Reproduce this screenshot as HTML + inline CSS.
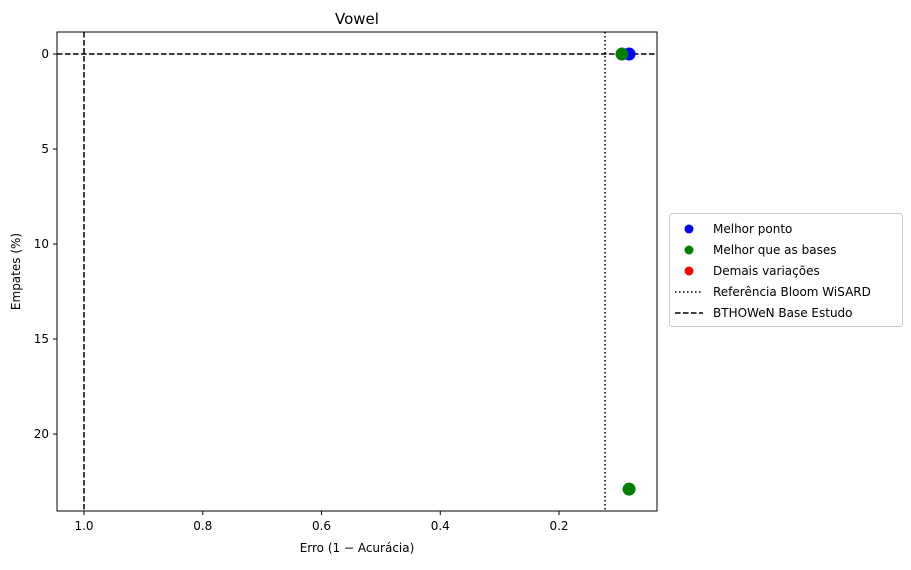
<!DOCTYPE html>
<html><head><meta charset="utf-8"><style>
body{margin:0;background:#fff;}
svg text{font-family:"DejaVu Sans","Liberation Sans",sans-serif;}
</style></head><body>
<svg width="911" height="565" xmlns="http://www.w3.org/2000/svg" id="chart">
<g id="plot"></g>
</svg>
<script>
const xTicks=[1.0,0.8,0.6,0.4,0.2];
const xTickLabels=["1.0","0.8","0.6","0.4","0.2"];
const yTicks=[0,5,10,15,20];
const yTickLabels=["0","5","10","15","20"];
const bestX=[0.082];
const bestY=[0];
const betterX=[0.094,0.082];
const betterY=[0,22.9];
const otherX=[];
const otherY=[];
const refBloomX=[0.1225];
const baseX=[1.0];
const baseY=[0];

const L=57,R=657,T=32,B=511;
const xMin=1.0455,xMax=0.035,yMin=-1.16,yMax=24.05;
const sx=v=>L+(xMin-v)/(xMin-xMax)*(R-L);
const sy=v=>T+(v-yMin)/(yMax-yMin)*(B-T);
const NS="http://www.w3.org/2000/svg";
const g=document.getElementById('plot');
function mk(tag,attrs,parent){const e=document.createElementNS(NS,tag);for(const k in attrs)e.setAttribute(k,attrs[k]);(parent||g).appendChild(e);return e;}

let t=mk('text',{x:(L+R)/2,y:24,'text-anchor':'middle','font-size':15});t.textContent='Vowel';



xTicks.forEach((v,i)=>{const x=sx(v);
 let l=mk('line',{x1:x,x2:x,y1:B,y2:B+4,stroke:'#000'});
 
 
 let tx=mk('text',{x:x,y:B+19,'text-anchor':'middle','font-size':12});tx.textContent=xTickLabels[i];
 
 
});
yTicks.forEach((v,i)=>{const y=sy(v);
 let l=mk('line',{x1:L-4,x2:L,y1:y,y2:y,stroke:'#000'});
 
 
 let tx=mk('text',{x:L-8,y:y+4,'text-anchor':'end','font-size':12});tx.textContent=yTickLabels[i];
 
 
});
let xt=mk('text',{x:(L+R)/2,y:552,'text-anchor':'middle','font-size':12});xt.textContent='Erro (1 − Acurácia)';


let yt=mk('text',{x:20,y:(T+B)/2,'text-anchor':'middle','font-size':12,transform:`rotate(-90 20 ${(T+B)/2})`});yt.textContent='Empates (%)';



refBloomX.forEach(v=>{let l=mk('line',{x1:sx(v),x2:sx(v),y1:T,y2:B,stroke:'#000','stroke-width':1.5,'stroke-dasharray':'1.5 2.5'});
 
 });
baseX.forEach(v=>{let l=mk('line',{x1:sx(v),x2:sx(v),y1:T,y2:B,stroke:'#000','stroke-width':1.5,'stroke-dasharray':'5.5 2.5'});
 
 });
baseY.forEach(v=>{let l=mk('line',{x1:L,x2:R,y1:sy(v),y2:sy(v),stroke:'#000','stroke-width':1.5,'stroke-dasharray':'5.5 2.5'});
 
 });

otherX.forEach((v,i)=>{let c=mk('circle',{cx:sx(v),cy:sy(otherY[i]),r:6.5,fill:'red'});
 
 });
bestX.forEach((v,i)=>{let c=mk('circle',{cx:sx(v),cy:sy(bestY[i]),r:6.5,fill:'blue'});
 
 });
betterX.forEach((v,i)=>{let c=mk('circle',{cx:sx(v),cy:sy(betterY[i]),r:6.5,fill:'green'});
 
 });

let fr=mk('rect',{x:L,y:T,width:R-L,height:B-T,fill:'none',stroke:'#000','stroke-width':1});



const lg=mk('g',{});


mk('rect',{x:669.5,y:213.5,width:233,height:113,rx:3,fill:'#fff',stroke:'#ccc'},lg);
const items=[['marker','blue','Melhor ponto'],['marker','green','Melhor que as bases'],['marker','red','Demais variações'],['dot','','Referência Bloom WiSARD'],['dash','','BTHOWeN Base Estudo']];
items.forEach((it,i)=>{const y=229+i*21;
 const e=mk('g',{},lg);
 
 
 if(it[0]==='marker')mk('circle',{cx:689,cy:y,r:4.5,fill:it[1]},e);
 else mk('line',{x1:675,x2:703,y1:y,y2:y,stroke:'#000','stroke-width':1.5,'stroke-dasharray':it[0]==='dot'?'1.5 2.5':'5.5 2.5'},e);
 const tx=mk('text',{x:713,y:y+4,'font-size':12},e);tx.textContent=it[2];});
</script>
</body></html>
